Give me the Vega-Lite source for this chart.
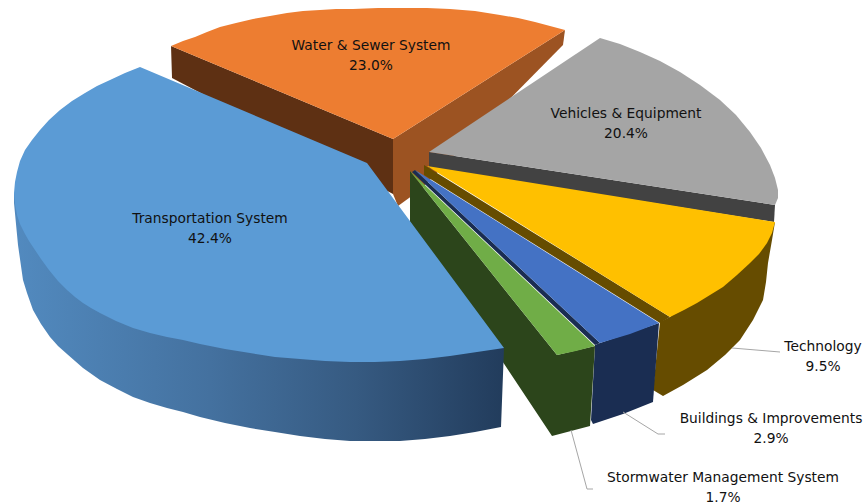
{"$schema":"https://vega.github.io/schema/vega-lite/v6.json","width":864,"height":504,"autosize":"none","padding":0,"background":"white","config":{"view":{"stroke":null}},
"datasets":{
"faces":[
{"part":"water-left","s":0,"x":171,"y":46},{"part":"water-left","s":1,"x":393,"y":139},{"part":"water-left","s":2,"x":393,"y":194},{"part":"water-left","s":3,"x":172,"y":78},
{"part":"water-right","s":0,"x":393,"y":139},{"part":"water-right","s":1,"x":565,"y":30},{"part":"water-right","s":2,"x":563,"y":45},{"part":"water-right","s":3,"x":420,"y":190},{"part":"water-right","s":4,"x":398,"y":206},{"part":"water-right","s":5,"x":393,"y":194},
{"part":"water-top","s":0,"x":171,"y":46},{"part":"water-top","s":1,"x":183,"y":41},{"part":"water-top","s":2,"x":195,"y":37},{"part":"water-top","s":3,"x":207,"y":32},{"part":"water-top","s":4,"x":220,"y":27},{"part":"water-top","s":5,"x":236,"y":23},{"part":"water-top","s":6,"x":253,"y":19},{"part":"water-top","s":7,"x":270,"y":16},{"part":"water-top","s":8,"x":287,"y":13},{"part":"water-top","s":9,"x":303,"y":11},{"part":"water-top","s":10,"x":320,"y":10},{"part":"water-top","s":11,"x":336,"y":9},{"part":"water-top","s":12,"x":353,"y":9},{"part":"water-top","s":13,"x":378,"y":8},{"part":"water-top","s":14,"x":403,"y":8},{"part":"water-top","s":15,"x":427,"y":8},{"part":"water-top","s":16,"x":450,"y":9},{"part":"water-top","s":17,"x":475,"y":11},{"part":"water-top","s":18,"x":500,"y":15},{"part":"water-top","s":19,"x":518,"y":18},{"part":"water-top","s":20,"x":535,"y":22},{"part":"water-top","s":21,"x":550,"y":26},{"part":"water-top","s":22,"x":565,"y":30},{"part":"water-top","s":23,"x":393,"y":139},
{"part":"vehicles-side","s":0,"x":429,"y":152},{"part":"vehicles-side","s":1,"x":775,"y":205},{"part":"vehicles-side","s":2,"x":774,"y":222},{"part":"vehicles-side","s":3,"x":429,"y":168},
{"part":"vehicles-top","s":0,"x":429,"y":152},{"part":"vehicles-top","s":1,"x":600,"y":38},{"part":"vehicles-top","s":2,"x":620,"y":44},{"part":"vehicles-top","s":3,"x":640,"y":52},{"part":"vehicles-top","s":4,"x":660,"y":61},{"part":"vehicles-top","s":5,"x":680,"y":72},{"part":"vehicles-top","s":6,"x":700,"y":85},{"part":"vehicles-top","s":7,"x":720,"y":100},{"part":"vehicles-top","s":8,"x":736,"y":115},{"part":"vehicles-top","s":9,"x":750,"y":132},{"part":"vehicles-top","s":10,"x":761,"y":148},{"part":"vehicles-top","s":11,"x":770,"y":165},{"part":"vehicles-top","s":12,"x":775,"y":178},{"part":"vehicles-top","s":13,"x":778,"y":190},{"part":"vehicles-top","s":14,"x":778,"y":198},{"part":"vehicles-top","s":15,"x":775,"y":205},
{"part":"technology-side","s":0,"x":424,"y":165},{"part":"technology-side","s":1,"x":670,"y":317},{"part":"technology-side","s":2,"x":660,"y":323},{"part":"technology-side","s":3,"x":424,"y":175},
{"part":"technology-wall","s":0,"x":775,"y":222},{"part":"technology-wall","s":1,"x":772,"y":240},{"part":"technology-wall","s":2,"x":768,"y":263},{"part":"technology-wall","s":3,"x":766,"y":282},{"part":"technology-wall","s":4,"x":763,"y":300},{"part":"technology-wall","s":5,"x":753,"y":320},{"part":"technology-wall","s":6,"x":740,"y":340},{"part":"technology-wall","s":7,"x":725,"y":355},{"part":"technology-wall","s":8,"x":707,"y":370},{"part":"technology-wall","s":9,"x":683,"y":385},{"part":"technology-wall","s":10,"x":663,"y":396},{"part":"technology-wall","s":11,"x":653,"y":390},{"part":"technology-wall","s":12,"x":660,"y":322},{"part":"technology-wall","s":13,"x":670,"y":317},
{"part":"technology-top","s":0,"x":427,"y":166},{"part":"technology-top","s":1,"x":775,"y":222},{"part":"technology-top","s":2,"x":772,"y":233},{"part":"technology-top","s":3,"x":767,"y":243},{"part":"technology-top","s":4,"x":759,"y":254},{"part":"technology-top","s":5,"x":750,"y":263},{"part":"technology-top","s":6,"x":737,"y":275},{"part":"technology-top","s":7,"x":723,"y":287},{"part":"technology-top","s":8,"x":710,"y":295},{"part":"technology-top","s":9,"x":697,"y":303},{"part":"technology-top","s":10,"x":684,"y":310},{"part":"technology-top","s":11,"x":670,"y":317},
{"part":"buildings-side","s":0,"x":415,"y":170},{"part":"buildings-side","s":1,"x":600,"y":343},{"part":"buildings-side","s":2,"x":595,"y":345},{"part":"buildings-side","s":3,"x":412,"y":172},
{"part":"buildings-wall","s":0,"x":600,"y":343},{"part":"buildings-wall","s":1,"x":659,"y":323},{"part":"buildings-wall","s":2,"x":653,"y":402},{"part":"buildings-wall","s":3,"x":623,"y":414},{"part":"buildings-wall","s":4,"x":593,"y":424},{"part":"buildings-wall","s":5,"x":591,"y":420},{"part":"buildings-wall","s":6,"x":595,"y":345},
{"part":"buildings-top","s":0,"x":415,"y":170},{"part":"buildings-top","s":1,"x":659,"y":323},{"part":"buildings-top","s":2,"x":630,"y":334},{"part":"buildings-top","s":3,"x":600,"y":343},
{"part":"stormwater-wall","s":0,"x":410,"y":171},{"part":"stormwater-wall","s":1,"x":557,"y":355},{"part":"stormwater-wall","s":2,"x":595,"y":346},{"part":"stormwater-wall","s":3,"x":590,"y":426},{"part":"stormwater-wall","s":4,"x":552,"y":436},{"part":"stormwater-wall","s":5,"x":410,"y":222},
{"part":"stormwater-top","s":0,"x":410,"y":171},{"part":"stormwater-top","s":1,"x":595,"y":346},{"part":"stormwater-top","s":2,"x":576,"y":351},{"part":"stormwater-top","s":3,"x":557,"y":355}
],
"blueWall":[
{"s":0,"x":14,"y":193},{"s":1,"x":14,"y":203},{"s":2,"x":18,"y":245},{"s":3,"x":23,"y":280},{"s":4,"x":27,"y":293},{"s":5,"x":33,"y":310},{"s":6,"x":41,"y":324},{"s":7,"x":50,"y":337},{"s":8,"x":58,"y":346},{"s":9,"x":67,"y":354},{"s":10,"x":83,"y":368},{"s":11,"x":100,"y":380},{"s":12,"x":117,"y":389},{"s":13,"x":133,"y":397},{"s":14,"x":150,"y":403},{"s":15,"x":167,"y":408},{"s":16,"x":183,"y":412},{"s":17,"x":200,"y":417},{"s":18,"x":225,"y":423},{"s":19,"x":250,"y":428},{"s":20,"x":275,"y":432},{"s":21,"x":300,"y":436},{"s":22,"x":325,"y":439},{"s":23,"x":350,"y":441},{"s":24,"x":375,"y":441},{"s":25,"x":400,"y":441},{"s":26,"x":425,"y":439},{"s":27,"x":450,"y":436},{"s":28,"x":475,"y":432},{"s":29,"x":501,"y":427},{"s":30,"x":504,"y":348}
],
"blueTop":[
{"s":0,"x":140,"y":67},{"s":1,"x":125,"y":73},{"s":2,"x":110,"y":80},{"s":3,"x":97,"y":86},{"s":4,"x":85,"y":93},{"s":5,"x":72,"y":101},{"s":6,"x":60,"y":110},{"s":7,"x":49,"y":120},{"s":8,"x":40,"y":130},{"s":9,"x":32,"y":140},{"s":10,"x":25,"y":150},{"s":11,"x":20,"y":161},{"s":12,"x":17,"y":172},{"s":13,"x":15,"y":182},{"s":14,"x":14,"y":193},{"s":15,"x":15,"y":204},{"s":16,"x":17,"y":215},{"s":17,"x":20,"y":224},{"s":18,"x":25,"y":234},{"s":19,"x":29,"y":241},{"s":20,"x":33,"y":247},{"s":21,"x":41,"y":259},{"s":22,"x":49,"y":270},{"s":23,"x":58,"y":281},{"s":24,"x":67,"y":290},{"s":25,"x":75,"y":297},{"s":26,"x":83,"y":303},{"s":27,"x":91,"y":308},{"s":28,"x":100,"y":313},{"s":29,"x":116,"y":321},{"s":30,"x":133,"y":328},{"s":31,"x":150,"y":333},{"s":32,"x":167,"y":337},{"s":33,"x":183,"y":340},{"s":34,"x":200,"y":344},{"s":35,"x":225,"y":349},{"s":36,"x":250,"y":353},{"s":37,"x":275,"y":357},{"s":38,"x":300,"y":359},{"s":39,"x":325,"y":361},{"s":40,"x":350,"y":362},{"s":41,"x":375,"y":362},{"s":42,"x":400,"y":361},{"s":43,"x":425,"y":359},{"s":44,"x":450,"y":356},{"s":45,"x":477,"y":352},{"s":46,"x":504,"y":348},{"s":47,"x":367,"y":163}
],
"leaders":[
{"label":"Technology","s":0,"x":732,"y":348},{"label":"Technology","s":1,"x":780,"y":352},
{"label":"Buildings","s":0,"x":623,"y":412},{"label":"Buildings","s":1,"x":658,"y":434},{"label":"Buildings","s":2,"x":665,"y":434},
{"label":"Stormwater","s":0,"x":571,"y":430},{"label":"Stormwater","s":1,"x":587,"y":489},{"label":"Stormwater","s":2,"x":593,"y":489}
],
"labels":[
{"name":"Water & Sewer System\n23.0%","x":371,"y":46},
{"name":"Vehicles & Equipment\n20.4%","x":626,"y":114},
{"name":"Transportation System\n42.4%","x":210,"y":219},
{"name":"Technology\n9.5%","x":823,"y":347},
{"name":"Buildings & Improvements\n2.9%","x":771,"y":419},
{"name":"Stormwater Management System\n1.7%","x":723,"y":478}
]},
"encoding":{
"x":{"field":"x","type":"quantitative","scale":{"domain":[0,864],"nice":false,"zero":false},"axis":null},
"y":{"field":"y","type":"quantitative","scale":{"domain":[504,0],"nice":false,"zero":false},"axis":null}},
"layer":[
{"data":{"name":"faces"},"mark":{"type":"line","filled":true,"interpolate":"linear-closed","strokeWidth":0},
"encoding":{"order":{"field":"s","type":"quantitative"},
"detail":{"field":"part"},
"color":{"field":"part","type":"nominal","legend":null,"scale":{"domain":["water-left","water-right","water-top","vehicles-side","vehicles-top","technology-side","technology-wall","technology-top","buildings-side","buildings-wall","buildings-top","stormwater-wall","stormwater-top"],"range":["#5e3013","#9c5322","#ed7d31","#424242","#a5a5a5","#664c00","#664c00","#ffc000","#1a2d52","#1a2d52","#4472c4","#2c451b","#70ad47"]}}}},
{"data":{"name":"blueWall"},"mark":{"type":"line","filled":true,"interpolate":"linear-closed","strokeWidth":0,"fill":{"gradient":"linear","x1":0,"y1":0,"x2":1,"y2":0,"stops":[{"offset":0,"color":"#528abf"},{"offset":0.4,"color":"#44719f"},{"offset":0.7,"color":"#365a81"},{"offset":1,"color":"#223c5c"}]}},
"encoding":{"order":{"field":"s","type":"quantitative"}}},
{"data":{"name":"blueTop"},"mark":{"type":"line","filled":true,"interpolate":"linear-closed","strokeWidth":0,"fill":"#5b9bd5"},
"encoding":{"order":{"field":"s","type":"quantitative"}}},
{"data":{"name":"leaders"},"mark":{"type":"line","stroke":"#a6a6a6","strokeWidth":1},
"encoding":{"order":{"field":"s","type":"quantitative"},"detail":{"field":"label"}}},
{"data":{"name":"labels"},"mark":{"type":"text","font":"DejaVu Sans","fontSize":13.8,"lineBreak":"\n","lineHeight":19.5,"color":"#111111","align":"center","baseline":"middle"},
"encoding":{"text":{"field":"name"}}}
]}
